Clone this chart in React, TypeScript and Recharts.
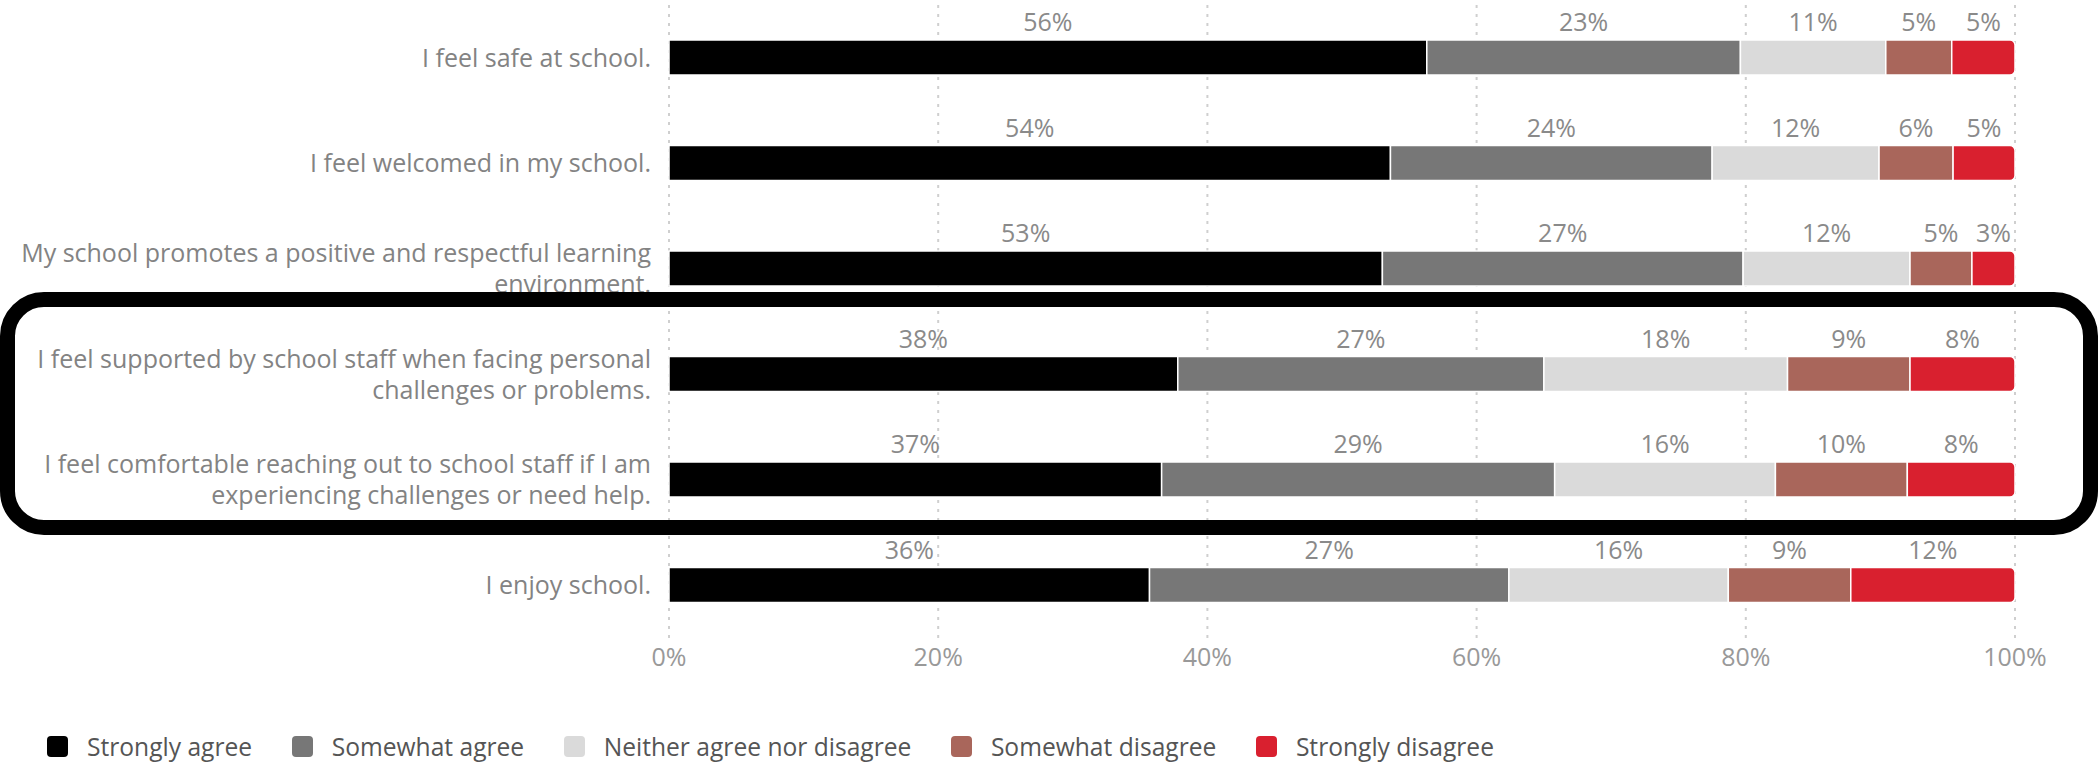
import React from 'react';
import { BarChart, Bar, XAxis, YAxis, CartesianGrid, LabelList, Legend } from 'recharts';

const categories = [
  'I feel safe at school.',
  'I feel welcomed in my school.',
  'My school promotes a positive and respectful learning\nenvironment.',
  'I feel supported by school staff when facing personal\nchallenges or problems.',
  'I feel comfortable reaching out to school staff if I am\nexperiencing challenges or need help.',
  'I enjoy school.',
];
const stronglyAgree = [56.3, 53.6, 53.0, 37.8, 36.6, 35.7];
const somewhatAgree = [23.3, 23.9, 26.8, 27.2, 29.2, 26.7];
const neitherAgree = [10.8, 12.4, 12.4, 18.1, 16.4, 16.3];
const somewhatDisagree = [4.9, 5.5, 4.6, 9.1, 9.8, 9.1];
const stronglyDisagree = [4.7, 4.6, 3.2, 7.8, 8.0, 12.2];
const xTicks = [0, 20, 40, 60, 80, 100];

const seriesNames = ['Strongly agree', 'Somewhat agree', 'Neither agree nor disagree', 'Somewhat disagree', 'Strongly disagree'];
const seriesKeys = ['sa', 'swa', 'nei', 'swd', 'sd'];
const seriesColors = ['#000000', '#777777', '#dadada', '#a9665b', '#d9202f'];

const data = categories.map((name, i) => ({
  name,
  sa: stronglyAgree[i],
  swa: somewhatAgree[i],
  nei: neitherAgree[i],
  swd: somewhatDisagree[i],
  sd: stronglyDisagree[i],
}));

const FONT = "'Open Sans', sans-serif";

const YTick = (props: any) => {
  const { x, y, payload } = props;
  const lines = String(payload.value).split('\n');
  const lh = 31;
  const startDy = -((lines.length - 1) / 2) * lh + 0.35 * 25;
  return (
    <text x={x} y={y} textAnchor="end" fill="#838383" fontSize={25} fontFamily={FONT}>
      {lines.map((l, i) => (
        <tspan key={i} x={x} dy={i === 0 ? startDy : lh}>
          {l}
        </tspan>
      ))}
    </text>
  );
};

const LegendContent = () => (
  <div
    style={{
      display: 'flex',
      alignItems: 'center',
      fontFamily: FONT,
      fontSize: 24.6,
      color: '#555555',
      paddingLeft: 47,
    }}
  >
    {seriesNames.map((n, i) => (
      <div key={n} style={{ display: 'flex', alignItems: 'center', marginRight: 39.5 }}>
        <span
          style={{
            width: 21,
            height: 21,
            borderRadius: 4,
            background: seriesColors[i],
            marginRight: 19,
            display: 'inline-block',
          }}
        />
        <span>{n}</span>
      </div>
    ))}
  </div>
);

export default function App() {
  return (
    <div style={{ position: 'absolute', left: 0, top: 0, width: 2099, height: 772, background: '#fff' }}>
      <BarChart
        width={2099}
        height={772}
        data={data}
        layout="vertical"
        margin={{ top: 5, right: 84, bottom: 104, left: 0 }}
        barSize={35}
        style={{ fontFamily: FONT }}
      >
        <CartesianGrid horizontal={false} stroke="#cfcfcf" strokeDasharray="3 6" strokeWidth={2} />
        <XAxis
          type="number"
          domain={[0, 100]}
          ticks={xTicks}
          tickFormatter={(v: number) => `${v}%`}
          axisLine={false}
          tickLine={false}
          tickMargin={4}
          height={30}
          tick={{ fill: '#999999', fontSize: 25, fontFamily: FONT }}
        />
        <YAxis
          type="category"
          dataKey="name"
          width={669}
          axisLine={false}
          tickLine={false}
          tickMargin={12}
          tick={<YTick />}
          interval={0}
        />
        {seriesKeys.map((k, i) => (
          <Bar
            key={k}
            dataKey={k}
            name={seriesNames[i]}
            stackId="a"
            fill={seriesColors[i]}
            stroke="#ffffff"
            strokeWidth={1.5}
            radius={i === seriesKeys.length - 1 ? [0, 5, 5, 0] : 0}
            isAnimationActive={false}
          >
            <LabelList
              dataKey={k}
              position="top"
              offset={9}
              formatter={(v: any) => `${Math.round(Number(v))}%`}
              fill="#8a8a8a"
              fontSize={25}
              fontFamily={FONT}
            />
          </Bar>
        ))}
        <Legend
          content={<LegendContent />}
          layout="horizontal"
          verticalAlign="middle"
          align="center"
          wrapperStyle={{ top: 730, left: 0, width: 2099 }}
        />
      </BarChart>
      <div
        style={{
          position: 'absolute',
          left: 0,
          top: 292,
          width: 2098,
          height: 243,
          border: '15px solid #000',
          borderRadius: 44,
          boxSizing: 'border-box',
          pointerEvents: 'none',
        }}
      />
    </div>
  );
}
